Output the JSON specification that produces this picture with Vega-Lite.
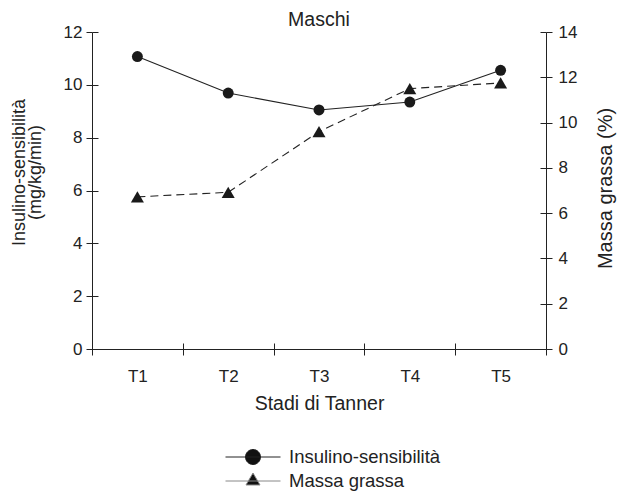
{
  "$schema": "https://vega.github.io/schema/vega-lite/v6.json",
  "autosize": "none",
  "width": 454,
  "height": 317,
  "padding": {"left": 92, "top": 32, "right": 75, "bottom": 143},
  "background": "white",
  "config": {
    "view": {"stroke": null},
    "font": "Liberation Sans",
    "axis": {
      "grid": false,
      "domainColor": "#222",
      "tickColor": "#222",
      "labelColor": "#222",
      "titleColor": "#222",
      "labelFont": "Liberation Sans",
      "titleFont": "Liberation Sans",
      "labelFontSize": 17,
      "titleFontSize": 18,
      "titleFontWeight": "normal",
      "tickSize": 6,
      "domainWidth": 1,
      "tickWidth": 1
    }
  },
  "title": {"text": "Maschi", "fontSize": 19.5, "fontWeight": "normal", "color": "#222", "font": "Liberation Sans", "offset": -7, "frame": "group"},
  "data": {
    "values": [
      {"stadio": "T1", "ins": 11.07, "fat": 6.72},
      {"stadio": "T2", "ins": 9.69, "fat": 6.92},
      {"stadio": "T3", "ins": 9.05, "fat": 9.6},
      {"stadio": "T4", "ins": 9.35, "fat": 11.5},
      {"stadio": "T5", "ins": 10.55, "fat": 11.75}
    ]
  },
  "layer": [
    {
      "encoding": {
        "x": {
          "field": "stadio",
          "type": "nominal",
          "scale": {"type": "band", "paddingInner": 0, "paddingOuter": 0},
          "axis": {
            "orient": "bottom",
            "title": "Stadi di Tanner",
            "titleFontSize": 19.5,
            "labelAngle": 0,
            "tickBand": "extent",
            "labelPadding": 13,
            "titlePadding": 10
          }
        },
        "y": {
          "field": "ins",
          "type": "quantitative",
          "scale": {"domain": [0, 12], "nice": false},
          "axis": {
            "orient": "left",
            "values": [0, 2, 4, 6, 8, 10, 12],
            "labelPadding": 4,
            "title": ["Insulino-sensibilità", "(mg/kg/min)"],
            "titleAngle": 270,
            "titleX": -73,
            "titleY": 140,
            "titleAlign": "center",
            "titleBaseline": "middle",
            "titleLineHeight": 16
          }
        }
      },
      "layer": [
        {"mark": {"type": "line", "color": "#222", "strokeWidth": 1.1}},
        {"mark": {"type": "point", "shape": "circle", "filled": true, "color": "#1a1a1a", "size": 120, "opacity": 1}}
      ]
    },
    {
      "encoding": {
        "x": {"field": "stadio", "type": "nominal", "axis": null},
        "y": {
          "field": "fat",
          "type": "quantitative",
          "scale": {"domain": [0, 14], "nice": false},
          "axis": {
            "orient": "right",
            "values": [0, 2, 4, 6, 8, 10, 12, 14],
            "labelPadding": 6,
            "title": "Massa grassa (%)",
            "titleFontSize": 20,
            "titleAngle": 270,
            "titleX": 59,
            "titleY": 156,
            "titleAlign": "center",
            "titleBaseline": "middle"
          }
        }
      },
      "layer": [
        {"mark": {"type": "line", "color": "#222", "strokeWidth": 1.1, "strokeDash": [8, 5]}},
        {"mark": {"type": "point", "shape": "triangle-up", "filled": true, "color": "#1a1a1a", "size": 170, "opacity": 1}}
      ]
    },
    {
      "data": {"values": [{"serie": "Insulino-sensibilità"}, {"serie": "Massa grassa"}]},
      "mark": {"type": "point", "filled": true, "size": 0, "fill": "#111", "stroke": "#222", "strokeWidth": 1, "opacity": 1},
      "encoding": {
        "stroke": {
          "field": "serie",
          "type": "nominal",
          "scale": {"domain": ["Insulino-sensibilità", "Massa grassa"], "range": ["#222", "#888"]},
          "legend": null
        },
        "shape": {
          "field": "serie",
          "type": "nominal",
          "scale": {
            "domain": ["Insulino-sensibilità", "Massa grassa"],
            "range": [
              "M-1,0H1M0.273,0A0.273,0.273,0,1,1,-0.273,0A0.273,0.273,0,1,1,0.273,0Z",
              "M-1,0H1M0,-0.29L0.255,0.145L-0.255,0.145Z"
            ]
          },
          "legend": {
            "title": null,
            "orient": "none",
            "legendX": 133,
            "legendY": 415,
            "padding": 0,
            "symbolSize": 3025,
            "symbolOpacity": 1,
            "symbolFillColor": "#111",
            "symbolStrokeColor": "#222",
            "symbolStrokeWidth": 1,
            "clipHeight": 20,
            "labelOffset": 8,
            "labelFontSize": 18.5,
            "labelFont": "Liberation Sans",
            "labelColor": "#222",
            "rowPadding": 4
          }
        }
      }
    },
    {
      "mark": {"type": "point", "opacity": 0, "size": 0},
      "encoding": {
        "x": {
          "field": "stadio",
          "type": "nominal",
          "axis": {"orient": "bottom", "offset": -6, "tickSize": 6, "tickBand": "extent", "labels": false, "domain": false, "title": null}
        },
        "y": {
          "field": "ins",
          "type": "quantitative",
          "scale": {"domain": [0, 12], "nice": false},
          "axis": {"orient": "left", "offset": -6, "tickSize": 6, "values": [0, 2, 4, 6, 8, 10, 12], "labels": false, "domain": false, "title": null}
        }
      }
    },
    {
      "mark": {"type": "point", "opacity": 0, "size": 0},
      "encoding": {
        "x": {"field": "stadio", "type": "nominal", "axis": null},
        "y": {
          "field": "fat",
          "type": "quantitative",
          "scale": {"domain": [0, 14], "nice": false},
          "axis": {"orient": "right", "offset": -6, "tickSize": 6, "values": [0, 2, 4, 6, 8, 10, 12, 14], "labels": false, "domain": false, "title": null}
        }
      }
    }
  ],
  "resolve": {"scale": {"y": "independent"}, "axis": {"x": "independent"}}
}
